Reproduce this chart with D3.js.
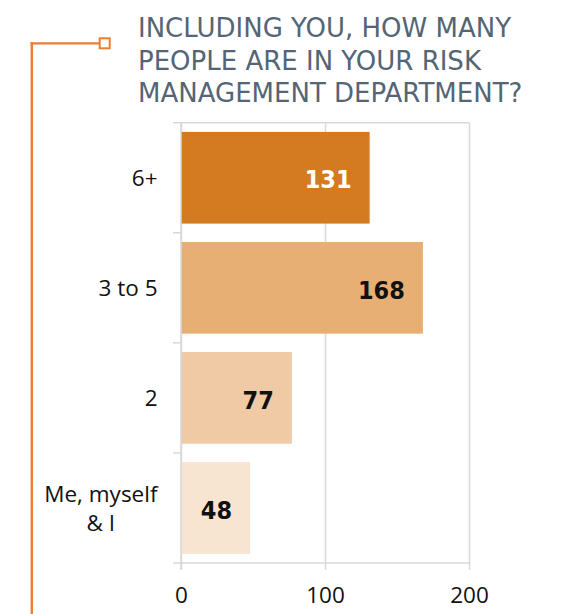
<!DOCTYPE html>
<html>
<head>
<meta charset="utf-8">
<script src="https://cdn.jsdelivr.net/npm/d3@7"></script>
<style>
  html, body { margin: 0; padding: 0; background: #fff; }
  svg { display: block; }
</style>
</head>
<body>
<svg id="chart" width="566" height="614"></svg>
<script>
// ---- data ----
const categories = ["6+", "3 to 5", "2", "Me, myself & I"];
const values = [131, 168, 77, 48];
const xTickValues = [0, 100, 200];
const titleLines = ["INCLUDING YOU, HOW MANY", "PEOPLE ARE IN YOUR RISK", "MANAGEMENT DEPARTMENT?"];

// ---- styles ----
const barColors = ["#D47A21", "#E8AF74", "#F0CAA4", "#F7E4D1"];
const valueColors = ["#ffffff", "#111111", "#111111", "#111111"];
const gridColor = "#d9d9d9";
const accent = "#ED7D31";

const svg = d3.select("#chart");
const W = 566, H = 614;
const plot = { left: 181, right: 469, top: 122.7, bottom: 563 };

const x = d3.scaleLinear().domain([0, 200]).range([plot.left, plot.right]);
const y = d3.scaleBand().domain(categories).range([plot.top, plot.bottom])
  .paddingInner(0.167).paddingOuter(0.0835);

// accent connector
svg.append("line").attr("x1", 31.8).attr("x2", 31.8).attr("y1", 42.2).attr("y2", H)
  .attr("stroke", accent).attr("stroke-width", 2.4);
svg.append("line").attr("x1", 30.6).attr("x2", 99).attr("y1", 43.3).attr("y2", 43.3)
  .attr("stroke", accent).attr("stroke-width", 2.2);
svg.append("rect").attr("x", 99.7).attr("y", 38.3).attr("width", 10).attr("height", 10)
  .attr("fill", "#fff").attr("stroke", accent).attr("stroke-width", 2);

// title
svg.append("g").selectAll("text").data(titleLines).join("text")
  .attr("x", 138)
  .attr("y", (d, i) => 37.3 + i * 32.2)
  .attr("font-family", "'DejaVu Sans', Verdana, sans-serif")
  .attr("font-size", 26)
  .attr("fill", "#546575")
  .text(d => d);

// grid lines (vertical) + x axis
const xAxis = d3.axisBottom(x).tickValues(xTickValues).tickSize(7).tickFormat(d3.format("d"));
const gx = svg.append("g").attr("transform", `translate(0,${plot.bottom})`).call(xAxis);
gx.select(".domain").remove();
gx.selectAll(".tick line").attr("stroke", gridColor).attr("stroke-width", 1.5)
  .attr("y1", plot.top - plot.bottom).attr("y2", 7);
gx.selectAll(".tick text")
  .attr("y", 40).attr("dy", 0)
  .attr("font-family", "'Open Sans', sans-serif")
  .attr("font-size", 22.5)
  .attr("fill", "#111");

// horizontal frame lines and category ticks
const boundaries = categories.map(c => y(c) - y.step() * y.paddingInner() / 2);
boundaries.push(plot.bottom);
svg.append("g").selectAll("line").data(boundaries).join("line")
  .attr("x1", 173)
  .attr("x2", (d, i) => (i === 0 || i === boundaries.length - 1) ? plot.right : plot.left)
  .attr("y1", d => d).attr("y2", d => d)
  .attr("stroke", gridColor).attr("stroke-width", 1.5);

// bars
svg.append("g").selectAll("rect").data(values).join("rect")
  .attr("x", x(0))
  .attr("y", (d, i) => y(categories[i]))
  .attr("width", d => x(d) - x(0))
  .attr("height", y.bandwidth())
  .attr("fill", (d, i) => barColors[i]);

// left axis line on top of bars
svg.append("line").attr("x1", plot.left).attr("x2", plot.left)
  .attr("y1", plot.top).attr("y2", plot.bottom + 7)
  .attr("stroke", gridColor).attr("stroke-width", 1.5);

// value labels
svg.append("g").selectAll("text").data(values).join("text")
  .attr("x", d => x(d) - 18)
  .attr("y", (d, i) => y(categories[i]) + y.bandwidth() / 2)
  .attr("dy", "0.43em")
  .attr("text-anchor", "end")
  .attr("font-family", "'DejaVu Sans Condensed', 'DejaVu Sans', sans-serif")
  .attr("font-stretch", "condensed")
  .attr("font-weight", "bold")
  .attr("font-size", 25)
  .attr("fill", (d, i) => valueColors[i])
  .text(d => d);

// category labels (wrapped, centered block right-aligned)
const labelRight = 157.5, maxW = 122, lineGap = 28.4, fs = 22.5;
const catG = svg.append("g")
  .attr("font-family", "'Open Sans', sans-serif")
  .attr("font-size", fs)
  .attr("fill", "#111");
categories.forEach((c) => {
  const cy = y(c) + y.bandwidth() / 2;
  const t = catG.append("text").attr("text-anchor", "middle");
  const words = c.split(" ");
  const lines = [];
  let cur = [];
  const probe = catG.append("text");
  words.forEach(w => {
    const test = cur.concat(w).join(" ");
    probe.text(test);
    if (probe.node().getComputedTextLength() > maxW && cur.length) {
      lines.push(cur.join(" "));
      cur = [w];
    } else cur.push(w);
  });
  lines.push(cur.join(" "));
  let widest = 0;
  lines.forEach(l => { probe.text(l); widest = Math.max(widest, probe.node().getComputedTextLength()); });
  probe.remove();
  const cx = labelRight - widest / 2;
  lines.forEach((l, i) => {
    t.append("tspan")
      .attr("x", cx)
      .attr("y", cy + (i - (lines.length - 1) / 2) * lineGap)
      .attr("dy", "0.38em")
      .text(l);
  });
});
</script>
</body>
</html>
